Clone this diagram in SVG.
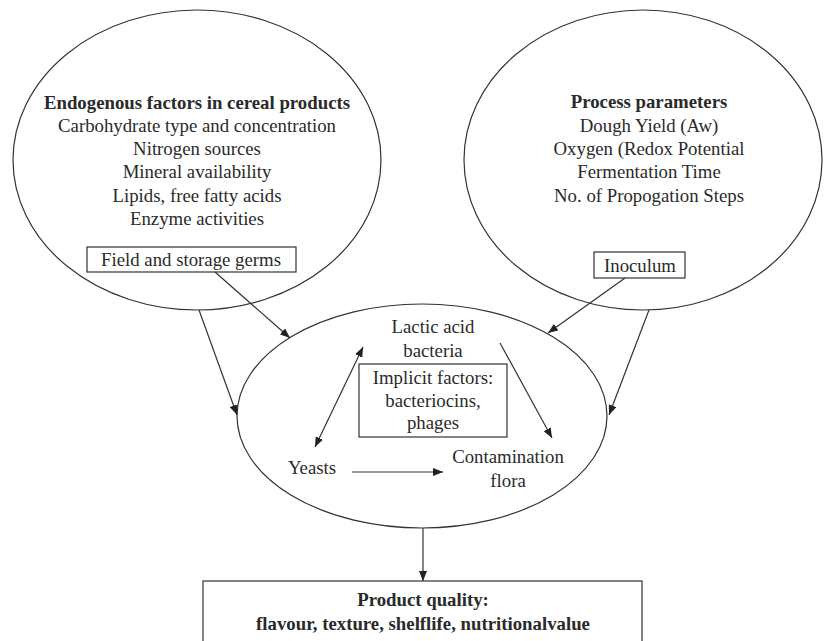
<svg xmlns="http://www.w3.org/2000/svg" width="824" height="641" viewBox="0 0 824 641">
<style>
.t{font-family:"Liberation Serif","Times New Roman",serif;font-size:18.8px;fill:#2a2a2a;text-anchor:middle}
.b{font-weight:bold}
.s{fill:none;stroke:#333;stroke-width:1.2}
.c{fill:none;stroke:#333;stroke-width:1.2;marker-end:url(#ah)}
</style>
<defs>
<marker id="ah" viewBox="0 0 10 8" refX="10" refY="4" markerWidth="10" markerHeight="8" markerUnits="userSpaceOnUse" orient="auto-start-reverse">
<path d="M0,0 L10,4 L0,8 z" fill="#222"/>
</marker>
</defs>
<rect width="824" height="641" fill="#fff"/>
<g id="endogenous">
<ellipse class="s" cx="197" cy="160" rx="184" ry="150"/>
<text class="t b" x="197" y="109">Endogenous factors in cereal products</text>
<text class="t" x="197" y="132">Carbohydrate type and concentration</text>
<text class="t" x="197" y="155">Nitrogen sources</text>
<text class="t" x="197" y="178">Mineral availability</text>
<text class="t" x="197" y="202">Lipids, free fatty acids</text>
<text class="t" x="197" y="225">Enzyme activities</text>
</g>
<g id="field">
<rect class="s" x="87" y="247" width="209" height="25"/>
<text class="t" x="191" y="266">Field and storage germs</text>
</g>
<g id="process">
<ellipse class="s" cx="643" cy="160" rx="179" ry="150"/>
<text class="t b" x="649" y="108">Process parameters</text>
<text class="t" x="649" y="132">Dough Yield (Aw)</text>
<text class="t" x="649" y="155">Oxygen (Redox Potential</text>
<text class="t" x="649" y="178">Fermentation Time</text>
<text class="t" x="649" y="202">No. of Propogation Steps</text>
</g>
<g id="inoculum">
<rect class="s" x="594" y="252" width="91" height="26"/>
<text class="t" x="640" y="272">Inoculum</text>
</g>
<g id="microflora">
<ellipse class="s" cx="422" cy="416" rx="185" ry="112"/>
</g>
<g id="lab">
<text class="t" x="433" y="333">Lactic acid</text>
<text class="t" x="433" y="357">bacteria</text>
</g>
<g id="implicit">
<rect class="s" x="359" y="364" width="148" height="73"/>
<text class="t" x="433" y="384">Implicit factors:</text>
<text class="t" x="433" y="407">bacteriocins,</text>
<text class="t" x="433" y="429">phages</text>
</g>
<g id="yeasts">
<text class="t" x="312" y="474">Yeasts</text>
</g>
<g id="contamination">
<text class="t" x="508" y="463">Contamination</text>
<text class="t" x="508" y="487">flora</text>
</g>
<g id="quality">
<rect class="s" x="203" y="581" width="439" height="70"/>
<text class="t b" x="423" y="606">Product quality:</text>
<text class="t b" x="423" y="630">flavour, texture, shelflife, nutritionalvalue</text>
</g>
<g id="connectors">
<line class="c" x1="199" y1="310" x2="237" y2="415"/>
<line class="c" x1="215" y1="272" x2="290" y2="338"/>
<line class="c" x1="625" y1="278" x2="548" y2="333"/>
<line class="c" x1="649" y1="310" x2="609" y2="415"/>
<line class="c" x1="363" y1="347" x2="315" y2="447" marker-start="url(#ah)"/>
<line class="c" x1="500" y1="343" x2="552" y2="438"/>
<line class="c" x1="352" y1="472" x2="443" y2="472"/>
<line class="c" x1="423" y1="528" x2="423" y2="581"/>
</g>
</svg>
